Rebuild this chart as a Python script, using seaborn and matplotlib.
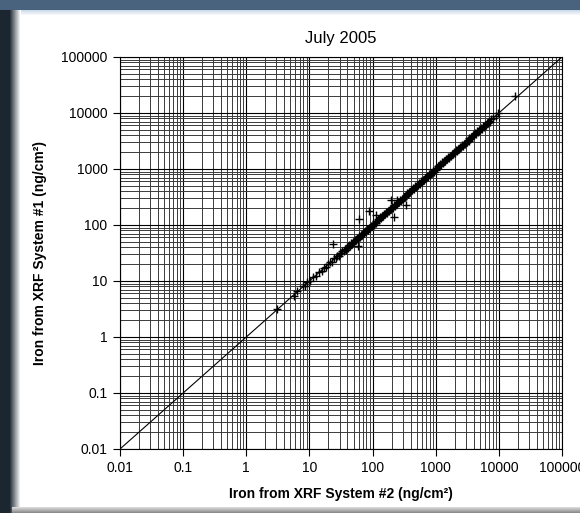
import numpy as np
import pandas as pd
import matplotlib
matplotlib.use("Agg")
import matplotlib.pyplot as plt
from matplotlib.ticker import FixedLocator, FixedFormatter, NullFormatter
import seaborn as sns

# Iron loadings measured on the same filters by two XRF systems (ng/cm²)
fe_system2 = [
    3.1, 5.8, 6.4, 7.9, 8.6, 9.3, 10.2, 11.5, 12.8, 14.1, 15.7, 16.9, 18.4, 19.6,
    21.2, 22.8, 24.0, 24.9, 26.3, 27.5, 29.0, 30.4, 31.8, 33.1, 34.7, 36.2, 37.5,
    39.0, 40.6, 42.3, 43.9, 45.5, 47.2, 49.0, 50.8, 52.7, 54.6, 56.4, 58.0, 58.7,
    60.8, 62.0, 63.1, 65.4, 67.9, 70.3, 72.8, 75.5, 78.1, 81.0, 83.9, 86.8, 89.0,
    90.1, 93.3, 96.7, 100.2, 103.8, 107.5, 111.4, 114.0, 115.3, 119.6, 123.8,
    128.3, 132.9, 137.7, 142.6, 147.8, 153.1, 158.6, 164.2, 170.1, 176.2, 182.6,
    189.1, 195.0, 195.9, 203.0, 210.3, 217.8, 222.0, 225.6, 233.7, 242.1, 243.0,
    250.8, 259.8, 269.1, 278.8, 288.8, 299.2, 310.0, 321.1, 332.7, 340.0, 344.6,
    357.0, 369.8, 383.1, 396.9, 411.1, 425.9, 441.2, 457.1, 473.5, 490.5, 508.2,
    526.4, 545.4, 565.0, 585.3, 606.3, 628.1, 650.7, 674.1, 698.3, 723.5, 749.5,
    776.4, 804.4, 833.3, 863.3, 894.3, 926.5, 959.8, 994.3, 1030, 1067, 1105,
    1145, 1186, 1229, 1273, 1319, 1366, 1415, 1466, 1519, 1574, 1630, 1689, 1750,
    1813, 1878, 1945, 2015, 2088, 2163, 2241, 2321, 2405, 2491, 2581, 2674, 2770,
    2870, 2973, 3080, 3191, 3306, 3425, 3548, 3676, 3808, 3945, 4087, 4234, 4386,
    4544, 4708, 4877, 5052, 5234, 5423, 5618, 5820, 6029, 6246, 6471, 6704, 6945,
    7195, 7454, 8120, 8900, 9800, 17800,
]
fe_system1 = [
    3.2, 5.5, 6.6, 8.3, 8.2, 9.6, 10.0, 11.9, 12.4, 14.6, 15.2, 17.4, 18.0, 20.3,
    21.9, 22.1, 45.0, 25.6, 26.0, 28.4, 28.2, 31.3, 31.0, 34.2, 33.9, 37.4, 36.3,
    40.1, 39.5, 43.8, 42.6, 46.9, 45.8, 50.6, 49.3, 54.1, 53.0, 58.2, 43.0, 57.1,
    62.5, 130.0, 61.4, 67.3, 66.1, 72.4, 70.9, 77.6, 76.0, 83.4, 81.7, 89.4, 178.0,
    87.6, 96.0, 94.1, 103.1, 101.0, 110.6, 108.4, 149.0, 118.7, 116.3, 127.4,
    124.8, 136.8, 134.0, 146.8, 143.8, 157.5, 154.3, 169.1, 165.5, 181.3, 177.6,
    194.6, 280.0, 190.6, 208.9, 204.6, 224.2, 139.0, 219.5, 240.5, 235.5, 280.0,
    258.1, 252.8, 276.9, 271.2, 297.2, 291.1, 319.0, 312.4, 342.3, 227.0, 335.3,
    367.4, 359.8, 394.2, 386.2, 423.1, 414.4, 454.0, 444.8, 487.2, 477.3, 523.0,
    512.2, 561.2, 549.7, 602.3, 589.9, 646.3, 633.1, 693.6, 679.5, 744.4, 729.3,
    798.9, 782.7, 857.5, 840.0, 920.2, 901.5, 987.6, 967.5, 1060, 1038, 1137,
    1114, 1220, 1196, 1310, 1283, 1406, 1377, 1508, 1478, 1619, 1586, 1738, 1703,
    1865, 1827, 2001, 1961, 2148, 2105, 2306, 2259, 2474, 2424, 2656, 2602, 2850,
    2793, 3059, 2997, 3283, 3217, 3524, 3452, 3782, 3705, 4059, 3977, 4357, 4268,
    4676, 4581, 5018, 4916, 5386, 5277, 5781, 5663, 6204, 6078, 6658, 6523, 7146,
    7001, 7670, 8300, 8700, 10100, 20500,
]

# 1:1 reference line end points
one_to_one = [0.01, 100000]

# Decade tick values and their labels
decades = [0.01, 0.1, 1, 10, 100, 1000, 10000, 100000]
decade_labels = ["0.01", "0.1", "1", "10", "100", "1000", "10000", "100000"]

df = pd.DataFrame({"sys2": fe_system2, "sys1": fe_system1})
line_df = pd.DataFrame({"x": one_to_one, "y": one_to_one})

sns.set_theme(style="white")
plt.rcParams["font.family"] = ["Liberation Sans", "DejaVu Sans"]

W, H = 580, 513
fig = plt.figure(figsize=(W / 100, H / 100), dpi=100)

# Framed backdrop: slate-blue top, dark left edge with soft shadow, white panel
bg = np.ones((H, W, 3))
blue = np.array([0.29, 0.39, 0.50])
dark = np.array([0.11, 0.15, 0.19])
bg[:10, :, :] = blue
bg[10:, :9, :] = dark
ramp = np.linspace(0, 1, 12)[:, None]
bg[10:, 9:21, :] = (dark[None, :] * (1 - ramp) + ramp)[None, :, :]
top_ramp = np.linspace(0, 1, 6)[:, None]
light = np.array([0.80, 0.86, 0.92])
bg[10:16, 21:, :] = (light[None, :] * (1 - top_ramp) + top_ramp)[:, None, :]
bot_ramp = np.linspace(0, 1, 6)[:, None]
grey = np.array([0.55, 0.55, 0.55])
bg[507:, 12:, :] = (np.ones(3)[None, :] * 0.85 * (1 - bot_ramp) + grey[None, :] * bot_ramp)[:, None, :]
bax = fig.add_axes([0, 0, 1, 1], zorder=-5)
bax.imshow(bg, aspect="auto", interpolation="bilinear")
bax.set_axis_off()

ax = fig.add_axes([120 / W, 1 - 449 / H, (562 - 120) / W, (449 - 57) / H])
ax.set_facecolor("white")
ax.set_xscale("log")
ax.set_yscale("log")
ax.set_xlim(0.01, 100000)
ax.set_ylim(0.01, 100000)

# Full log grid: every integer multiple within each decade
minor_vals = [m * d for d in decades[:-1] for m in range(2, 10)]
for axis in (ax.xaxis, ax.yaxis):
    axis.set_major_locator(FixedLocator(decades))
    axis.set_major_formatter(FixedFormatter(decade_labels))
    axis.set_minor_locator(FixedLocator(minor_vals))
    axis.set_minor_formatter(NullFormatter())
ax.grid(True, which="major", color="black", linewidth=0.8)
ax.grid(True, which="minor", color="#3a3a3a", linewidth=0.7)
ax.set_axisbelow(True)

sns.lineplot(data=line_df, x="x", y="y", ax=ax, color="black", linewidth=0.8, zorder=3)
sns.scatterplot(data=df, x="sys2", y="sys1", ax=ax, marker="+", color="black",
                s=36, linewidth=1.0, zorder=4)

for s in ax.spines.values():
    s.set_color("black")
    s.set_linewidth(0.8)
ax.tick_params(which="major", direction="out", length=5, width=0.8, color="black",
               labelsize=10, labelcolor="black", bottom=True, left=True, pad=4)
ax.tick_params(which="minor", length=0)

ax.set_xlabel("Iron from XRF System #2 (ng/cm²)", fontsize=10, fontweight="bold",
              color="black", labelpad=8)
ax.set_ylabel("Iron from XRF System #1 (ng/cm²)", fontsize=10, fontweight="bold",
              color="black", labelpad=10)
ax.set_title("July 2005", fontsize=12, color="black", pad=10)

fig.savefig("out.png", dpi=100)
